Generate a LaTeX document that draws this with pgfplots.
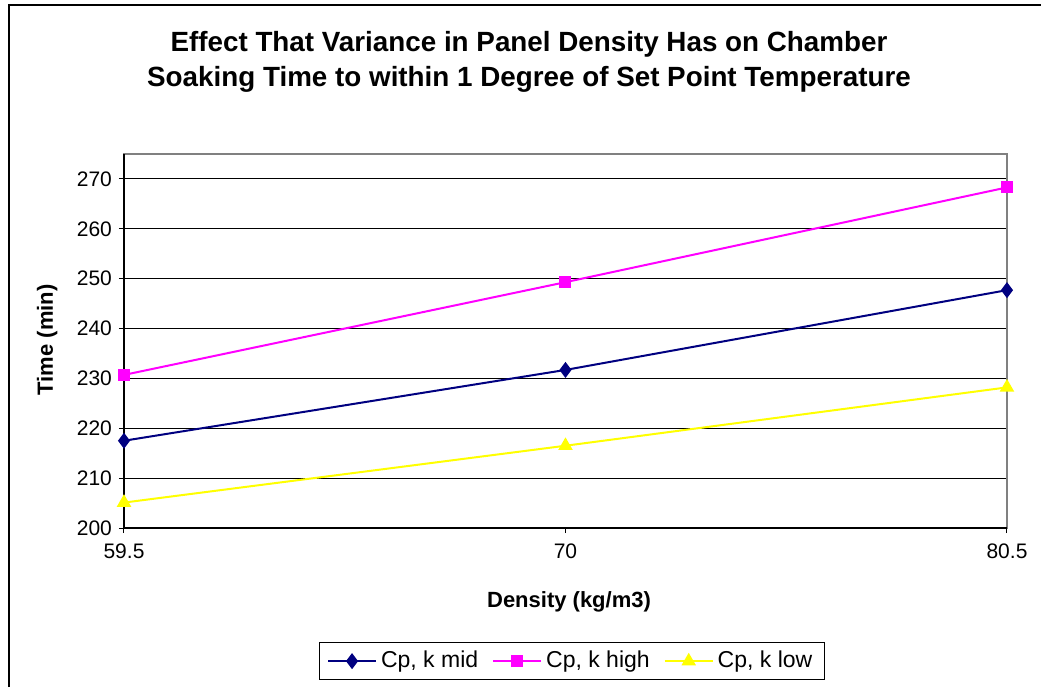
\documentclass[border=0pt]{standalone}
\usepackage{pgfplots}
\pgfplotsset{compat=1.18}
\usepackage{fontspec}
\setmainfont{Liberation Sans}

\definecolor{midblue}{RGB}{0,0,128}
\definecolor{highmag}{RGB}{255,0,255}
\definecolor{lowyel}{RGB}{255,255,0}
\definecolor{frame}{RGB}{128,128,128}

\begin{document}
\begin{tikzpicture}
% page area: 1041 x 687 units of 0.5pt, origin at the top left corner
\path[use as bounding box] (0,0) rectangle (520.5pt,-343.5pt);
% chart area border (left and top edges)
\draw[black,line width=1pt] (4.5pt,-343.5pt) -- (4.5pt,-2.5pt) -- (520.5pt,-2.5pt);

\node[align=center,font=\bfseries\fontsize{13.9}{17.5}\selectfont] at (264.5pt,-31pt)
  {Effect That Variance in Panel Density Has on Chamber\\Soaking Time to within 1 Degree of Set Point Temperature};

\begin{axis}[
  at={(62pt,-264pt)}, anchor=south west,
  width=441.5pt, height=187pt, scale only axis,
  xmin=59.5, xmax=80.5, ymin=200, ymax=275,
  xtick={59.5,70,80.5}, xticklabels={59.5,70,80.5},
  ytick={200,210,...,270},
  ymajorgrids, grid style={black,line width=0.5pt},
  axis line style={frame,line width=1pt},
  tick align=outside, major tick length=2.5pt,
  tick style={black,line width=0.5pt},
  xtick pos=bottom, ytick pos=left,
  /pgf/number format/assume math mode=true,
  ticklabel style={font=\fontsize{10.5}{12}\selectfont},
  xticklabel style={yshift=-2pt},
  xlabel={Density (kg/m3)}, ylabel={Time (min)},
  label style={font=\bfseries\fontsize{11}{13}\selectfont},
  xlabel style={at={(axis description cs:0.504,-0.198)},anchor=center},
  ylabel style={at={(axis description cs:-0.087,0.503)},anchor=center,rotate=0},
  legend columns=3,
  legend style={at={(axis description cs:0.507,-0.356)},anchor=center,
    draw=black,line width=0.5pt,font=\fontsize{11.5}{13.5}\selectfont,
    /tikz/every even column/.append style={column sep=5pt},
    inner xsep=4pt,inner ysep=2.5pt},
  legend image code/.code={\draw[mark repeat=2,mark phase=2]
    plot coordinates {(0pt,0pt) (12pt,0pt) (24pt,0pt)};},
  clip=false,
]
% plot area's left and bottom edges in black
\draw[black,line width=1pt] (rel axis cs:0,1) -- (rel axis cs:0,0) -- (rel axis cs:1,0);

\addplot[midblue,line width=1pt,mark=diamond*,mark size=3.2pt,mark options={solid,fill=midblue}]
  coordinates {(59.5,217.5) (70,231.7) (80.5,247.7)};
\addlegendentry{Cp, k mid}
\addplot[highmag,line width=1pt,mark=square*,mark size=2.5pt,mark options={solid,fill=highmag}]
  coordinates {(59.5,230.7) (70,249.3) (80.5,268.3)};
\addlegendentry{Cp, k high}
\addplot[lowyel,line width=1pt,mark=triangle*,mark size=3.2pt,mark options={solid,fill=lowyel}]
  coordinates {(59.5,205.1) (70,216.5) (80.5,228.2)};
\addlegendentry{Cp, k low}
\end{axis}
\end{tikzpicture}
\end{document}
